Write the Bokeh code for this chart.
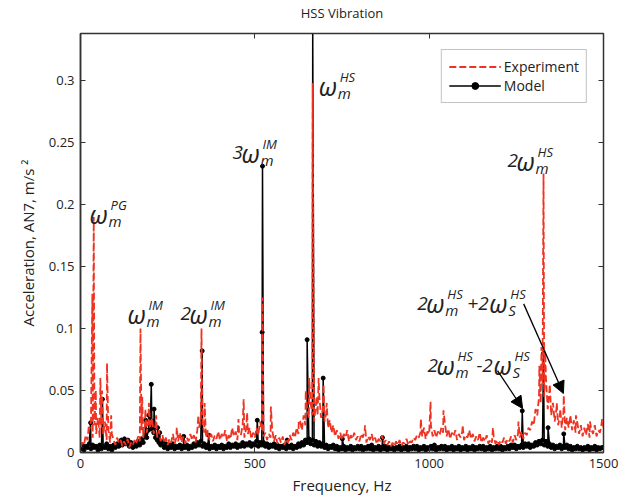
import numpy as np
from bokeh.plotting import figure
from bokeh.models import (Range1d, FixedTicker, LinearAxis, Label, Arrow, NormalHead,
                          Legend, LegendItem, CustomJSTickFormatter, ColumnDataSource,
                          CustomLabelingPolicy)
from bokeh.embed import file_html
from bokeh.resources import INLINE

# ---------------- data ----------------
floor_freq = list(range(0, 1501, 5))  # Hz

exp_floor = [
    0.004, 0.008, 0.006, 0.014, 0.010, 0.018, 0.025, 0.012, 0.022, 0.015, 0.028, 0.012, 0.020, 0.014, 0.025, 0.010, 0.018, 0.008, 0.015, 0.010,  # 0
    0.006, 0.012, 0.008, 0.010, 0.005, 0.009, 0.006, 0.011, 0.004, 0.008, 0.006, 0.010, 0.007, 0.013, 0.009, 0.018, 0.012, 0.022, 0.016, 0.025,  # 100
    0.020, 0.028, 0.015, 0.022, 0.012, 0.018, 0.009, 0.014, 0.008, 0.012, 0.006, 0.011, 0.008, 0.015, 0.007, 0.012, 0.009, 0.016, 0.008, 0.013,  # 200
    0.007, 0.012, 0.009, 0.015, 0.010, 0.014, 0.008, 0.018, 0.020, 0.028, 0.022, 0.016, 0.012, 0.018, 0.010, 0.015, 0.009, 0.014, 0.011, 0.017,  # 300
    0.010, 0.015, 0.012, 0.018, 0.009, 0.014, 0.011, 0.020, 0.013, 0.017, 0.010, 0.016, 0.014, 0.022, 0.012, 0.019, 0.015, 0.020, 0.011, 0.016,  # 400
    0.012, 0.020, 0.014, 0.025, 0.018, 0.013, 0.016, 0.010, 0.015, 0.012, 0.018, 0.009, 0.014, 0.007, 0.012, 0.008, 0.013, 0.006, 0.011, 0.008,  # 500
    0.014, 0.010, 0.016, 0.012, 0.020, 0.015, 0.025, 0.018, 0.030, 0.022, 0.035, 0.028, 0.040, 0.030, 0.025, 0.038, 0.030, 0.045, 0.028, 0.035,  # 600
    0.025, 0.032, 0.020, 0.026, 0.016, 0.022, 0.013, 0.018, 0.011, 0.016, 0.010, 0.015, 0.012, 0.018, 0.009, 0.014, 0.011, 0.016, 0.010, 0.013,  # 700
    0.009, 0.015, 0.012, 0.018, 0.008, 0.013, 0.010, 0.015, 0.009, 0.012, 0.007, 0.011, 0.009, 0.014, 0.007, 0.010, 0.006, 0.009, 0.005, 0.008,  # 800
    0.005, 0.009, 0.006, 0.010, 0.005, 0.008, 0.007, 0.011, 0.006, 0.009, 0.008, 0.012, 0.010, 0.014, 0.012, 0.016, 0.013, 0.020, 0.011, 0.017,  # 900
    0.015, 0.022, 0.013, 0.018, 0.012, 0.017, 0.014, 0.020, 0.016, 0.024, 0.013, 0.019, 0.011, 0.016, 0.013, 0.018, 0.010, 0.015, 0.012, 0.017,  # 1000
    0.010, 0.014, 0.012, 0.018, 0.011, 0.015, 0.009, 0.013, 0.010, 0.016, 0.008, 0.012, 0.009, 0.014, 0.007, 0.011, 0.008, 0.013, 0.007, 0.010,  # 1100
    0.006, 0.010, 0.008, 0.012, 0.007, 0.011, 0.009, 0.013, 0.008, 0.014, 0.010, 0.015, 0.012, 0.017, 0.011, 0.016, 0.014, 0.020, 0.018, 0.025,  # 1200
    0.022, 0.035, 0.030, 0.045, 0.040, 0.055, 0.045, 0.060, 0.035, 0.050, 0.030, 0.040, 0.025, 0.035, 0.022, 0.030, 0.020, 0.032, 0.018, 0.028,  # 1300
    0.020, 0.030, 0.018, 0.026, 0.016, 0.024, 0.015, 0.022, 0.013, 0.020, 0.014, 0.023, 0.012, 0.019, 0.015, 0.022, 0.013, 0.018, 0.016, 0.024,  # 1400
    0.020,                                                                                                                                      # 1500
]

exp_peak_freq = [24, 34, 38, 44, 57, 62, 76, 88, 172, 177, 186, 196, 217, 276,
                 338, 347, 356, 453, 468, 478, 522, 546, 626, 646, 656, 666,
                 677, 683, 697, 706, 816, 976, 1004, 1041, 1096, 1183, 1256,
                 1316, 1322, 1328, 1333, 1346, 1366, 1376, 1386, 1421,
                 1461, 1496]
exp_peak_amp = [0.022, 0.128, 0.190, 0.050, 0.060, 0.050, 0.072, 0.030, 0.100,
                0.045, 0.035, 0.040, 0.030, 0.020, 0.030, 0.100, 0.040, 0.027,
                0.043, 0.032, 0.125, 0.037, 0.026, 0.050, 0.060, 0.298, 0.045,
                0.060, 0.055, 0.040, 0.022, 0.027, 0.041, 0.034, 0.022, 0.020,
                0.025, 0.070, 0.085, 0.225, 0.080, 0.055, 0.040, 0.035,
                0.046, 0.030, 0.025, 0.027]

mod_floor = [
    0.003, 0.006, 0.002, 0.005, 0.004, 0.007, 0.003, 0.006, 0.004, 0.005, 0.002, 0.006, 0.003, 0.005, 0.004, 0.007, 0.003, 0.005, 0.002, 0.006,  # 0
    0.004, 0.007, 0.005, 0.008, 0.006, 0.010, 0.007, 0.009, 0.005, 0.008, 0.004, 0.007, 0.005, 0.009, 0.006, 0.011, 0.008, 0.014, 0.012, 0.018,  # 100
    0.022, 0.019, 0.016, 0.012, 0.010, 0.008, 0.006, 0.009, 0.004, 0.007, 0.003, 0.006, 0.004, 0.007, 0.003, 0.005, 0.004, 0.006, 0.003, 0.005,  # 200
    0.004, 0.006, 0.003, 0.005, 0.004, 0.007, 0.005, 0.008, 0.006, 0.009, 0.005, 0.007, 0.004, 0.006, 0.003, 0.005, 0.004, 0.006, 0.003, 0.005,  # 300
    0.004, 0.006, 0.003, 0.005, 0.004, 0.007, 0.004, 0.006, 0.005, 0.007, 0.004, 0.006, 0.005, 0.008, 0.005, 0.007, 0.006, 0.008, 0.005, 0.007,  # 400
    0.006, 0.009, 0.005, 0.008, 0.006, 0.008, 0.005, 0.007, 0.004, 0.006, 0.005, 0.007, 0.004, 0.006, 0.003, 0.005, 0.004, 0.006, 0.003, 0.005,  # 500
    0.004, 0.006, 0.003, 0.005, 0.004, 0.007, 0.005, 0.008, 0.006, 0.010, 0.008, 0.011, 0.007, 0.010, 0.006, 0.009, 0.005, 0.008, 0.005, 0.007,  # 600
    0.004, 0.006, 0.003, 0.005, 0.004, 0.006, 0.003, 0.005, 0.002, 0.004, 0.003, 0.005, 0.002, 0.004, 0.003, 0.005, 0.002, 0.004, 0.003, 0.005,  # 700
    0.003, 0.005, 0.002, 0.004, 0.003, 0.005, 0.003, 0.006, 0.002, 0.004, 0.003, 0.005, 0.002, 0.004, 0.003, 0.005, 0.002, 0.004, 0.003, 0.004,  # 800
    0.002, 0.004, 0.003, 0.005, 0.002, 0.004, 0.003, 0.005, 0.002, 0.004, 0.003, 0.005, 0.003, 0.005, 0.002, 0.004, 0.003, 0.005, 0.002, 0.004,  # 900
    0.003, 0.005, 0.003, 0.006, 0.002, 0.004, 0.003, 0.005, 0.003, 0.005, 0.002, 0.004, 0.003, 0.005, 0.002, 0.004, 0.003, 0.005, 0.002, 0.004,  # 1000
    0.003, 0.005, 0.002, 0.004, 0.003, 0.005, 0.002, 0.004, 0.003, 0.005, 0.003, 0.005, 0.002, 0.004, 0.003, 0.005, 0.002, 0.004, 0.003, 0.005,  # 1100
    0.003, 0.005, 0.002, 0.004, 0.003, 0.005, 0.003, 0.006, 0.004, 0.006, 0.003, 0.005, 0.004, 0.006, 0.004, 0.007, 0.005, 0.007, 0.004, 0.006,  # 1200
    0.005, 0.008, 0.006, 0.009, 0.007, 0.010, 0.006, 0.009, 0.005, 0.007, 0.004, 0.006, 0.003, 0.005, 0.004, 0.006, 0.003, 0.005, 0.004, 0.006,  # 1300
    0.003, 0.005, 0.002, 0.004, 0.003, 0.005, 0.003, 0.004, 0.002, 0.004, 0.003, 0.005, 0.002, 0.004, 0.003, 0.005, 0.002, 0.004, 0.003, 0.004,  # 1400
    0.004,                                                                                                                                      # 1500
]

mod_peak_freq = [29, 63, 117, 126, 136, 187, 196, 203, 207, 211, 221, 227, 296,
                 349, 368, 507, 521, 522, 593, 650, 666, 696, 751, 866, 1267,
                 1328, 1341, 1386]
mod_peak_amp = [0.024, 0.043, 0.010, 0.011, 0.010, 0.026, 0.030, 0.055, 0.025,
                0.035, 0.020, 0.016, 0.013, 0.082, 0.014, 0.026, 0.097, 0.231,
                0.010, 0.091, 0.345, 0.060, 0.011, 0.012, 0.0336, 0.080, 0.020,
                0.015]

x_ticks = [0, 500, 1000, 1500]
y_ticks = [0, 0.05, 0.1, 0.15, 0.2, 0.25, 0.3]


def merged(ff, fa, pf, pa):
    f = np.array(list(ff) + list(pf), dtype=float)
    a = np.array(list(fa) + list(pa), dtype=float)
    o = np.argsort(f, kind="stable")
    return f[o], a[o]


ef, ea = merged(floor_freq, exp_floor, exp_peak_freq, exp_peak_amp)
mf, ma = merged(floor_freq, mod_floor, mod_peak_freq, mod_peak_amp)
exp_src = ColumnDataSource(dict(f=ef, a=ea))
mod_src = ColumnDataSource(dict(f=mf, a=ma))

# ---------------- figure ----------------
FONT = "Open Sans"
RED = "#ee3322"
AX = "#333333"

p = figure(width=635, height=497, x_range=Range1d(0, 1500), y_range=Range1d(0, 0.338),
           output_backend="svg", toolbar_location=None,
           min_border_left=80, min_border_right=32, min_border_top=33, min_border_bottom=45)
p.background_fill_color = "white"
p.border_fill_color = "white"
p.outline_line_color = AX
p.outline_line_width = 1.5
p.xgrid.visible = False
p.ygrid.visible = False

p.title.text = "HSS Vibration"
p.title.align = "center"
p.title.text_font = FONT
p.title.text_font_style = "normal"
p.title.text_font_size = "13px"
p.title.text_color = "#222222"
p.title.standoff = 2

fmt = CustomJSTickFormatter(code="return String(Math.round(tick*1000)/1000);")

for ax, tks in ((p.xaxis[0], x_ticks), (p.yaxis[0], y_ticks)):
    ax.ticker = FixedTicker(ticks=tks)
    ax.formatter = fmt
    ax.major_tick_in = 5
    ax.major_tick_out = 0
    ax.minor_tick_line_color = None
    ax.axis_line_color = AX
    ax.axis_line_width = 1.5
    ax.major_tick_line_color = AX
    ax.major_label_text_font = FONT
    ax.major_label_text_font_size = "13px"
    ax.major_label_text_color = "#222222"
    ax.axis_label_text_font = FONT
    ax.axis_label_text_font_size = "15px"
    ax.axis_label_text_font_style = "normal"
    ax.axis_label_text_color = "#222222"

p.xaxis.axis_label = "Frequency, Hz"
p.yaxis.axis_label = "Acceleration, AN7, m/s \u00b2"
p.xaxis.major_label_standoff = 6
p.yaxis.major_label_standoff = 6
p.xaxis.axis_label_standoff = 4
p.yaxis.axis_label_standoff = 8

no_labels = CustomLabelingPolicy(code="for (const i of indices) { indices.unset(i) } return indices")
top = LinearAxis(ticker=FixedTicker(ticks=x_ticks), major_label_policy=no_labels,
                 major_tick_in=5, major_tick_out=0, minor_tick_line_color=None,
                 axis_line_color=AX, major_tick_line_color=AX, major_label_standoff=0)
right = LinearAxis(ticker=FixedTicker(ticks=y_ticks), major_label_policy=no_labels,
                   major_tick_in=5, major_tick_out=0, minor_tick_line_color=None,
                   axis_line_color=AX, major_tick_line_color=AX, major_label_standoff=0)
p.add_layout(top, "above")
p.add_layout(right, "right")

# ---------------- series ----------------
r_mod_line = p.line("f", "a", source=mod_src, line_color="black", line_width=1.5)
r_mod_pts = p.scatter("f", "a", source=mod_src, marker="circle", size=4,
                      fill_color="black", line_color="black")
r_exp = p.line("f", "a", source=exp_src, line_color=RED, line_width=1.8,
               line_dash="7 3")

legend = Legend(items=[LegendItem(label="Experiment", renderers=[r_exp]),
                       LegendItem(label="Model", renderers=[r_mod_line, r_mod_pts])],
                location="top_right", margin=16, padding=7, spacing=0,
                glyph_width=52, glyph_height=17, label_height=17, label_standoff=3,
                label_text_font=FONT, label_text_font_size="14px",
                label_text_color="#222222", border_line_color="#888888",
                border_line_width=1, background_fill_alpha=1)
p.add_layout(legend, "center")

# ---------------- annotations ----------------
TXT = "#222222"


def math_label(x, y, parts):
    for text, dx, dy, size in parts:
        p.add_layout(Label(x=x, y=y, x_offset=dx, y_offset=dy, text=text,
                           text_font=FONT, text_font_style="italic",
                           text_font_size=f"{size}px", text_color=TXT,
                           text_baseline="alphabetic", text_align="left"))


W, SUP, SUB = 25, 13, 15


def omega(dx, sup, sub):
    return [("\u03c9", dx, 0, W), (sup, dx + 21, 9, SUP), (sub, dx + 19, -7, SUB)]


math_label(26, 0.1927, omega(0, "PG", "m"))
math_label(135, 0.1121, omega(0, "IM", "m"))
math_label(287, 0.1121, [("2", 0, 0, 19)] + omega(9, "IM", "m"))
math_label(436, 0.2419, [("3", 0, 0, 19)] + omega(9, "IM", "m"))
math_label(683, 0.2960, omega(0, "HS", "m"))
math_label(1225, 0.2355, [("2", 0, 0, 19)] + omega(9, "HS", "m"))
math_label(966, 0.1202, [("2", 0, 0, 19)] + omega(9, "HS", "m")
           + [("+2", 50, 0, 19)] + omega(72, "HS", "S"))
math_label(995, 0.0702, [("2", 0, 0, 19)] + omega(9, "HS", "m")
           + [("-2", 49, 0, 19)] + omega(66, "HS", "S"))

for (xs, ys, xe, ye) in [(1271, 0.1199, 1385, 0.0476), (1196, 0.0661, 1268, 0.0355)]:
    p.add_layout(Arrow(end=NormalHead(size=12, fill_color="black", line_color="black"),
                       x_start=xs, y_start=ys, x_end=xe, y_end=ye,
                       line_color="black", line_width=1.3))

open("out.html", "w").write(file_html(p, INLINE))
